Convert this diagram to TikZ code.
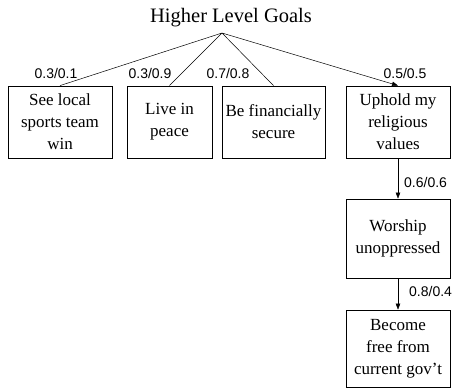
\documentclass[tikz,border=0pt]{standalone}
\usepackage{fontspec}
\setmainfont{Liberation Serif}
\newfontfamily\labelfont{Liberation Sans}
\usetikzlibrary{arrows.meta}
\begin{document}
\begin{tikzpicture}[x=1pt,y=-1pt,
		link/.style={line width=0.5pt,-{Triangle[length=6pt,width=4.5pt]}},
		weight/.style={font=\labelfont\fontsize{14}{16}\selectfont,inner sep=0pt}]
		\useasboundingbox (0,0) rectangle (452,388);
		\node (goals) at (231,18) {\fontsize{20.5}{24}\selectfont Higher Level Goals};
		\coordinate (apex) at (222,33);
		\begin{scope}[every node/.style={draw,line width=0.8pt,align=center,inner sep=0pt,minimum height=72pt,font=\fontsize{17}{22}\selectfont}]
		\node[minimum width=104pt] (g1) at (60,122) {See local\\sports team\\win};
		\node[minimum width=85pt] (g2) at (169.5,122) {Live in\\peace};
		\node[minimum width=103pt] (g3) at (273.5,122) {Be financially\\secure};
		\node[minimum width=104pt] (g4) at (398,122) {Uphold my\\religious\\values};
		\node[minimum width=104pt,minimum height=79pt] (g5) at (398,238.5) {Worship\\unoppressed};
		\node[minimum width=104pt,minimum height=77pt] (g6) at (398,348.5) {Become\\free from\\current gov't};
		\end{scope}
		\draw[link] \foreach \k in {1,...,4}
		{(apex)--(g\k.north)};
		\draw[link] (g4)--(g5);
		\draw[link] (g5)--(g6);
		\node[weight] (w1) at (56,73) {0.3/0.1};
		\node[weight] (w2) at (150,73) {0.3/0.9};
		\node[weight] (w3) at (228,73) {0.7/0.8};
		\node[weight] (w4) at (405,73) {0.5/0.5};
		\node[weight,anchor=west] (w5) at (404,182) {0.6/0.6};
		\node[weight,anchor=west] (w6) at (409,291) {0.8/0.4};
		\end{tikzpicture}
\end{document}
